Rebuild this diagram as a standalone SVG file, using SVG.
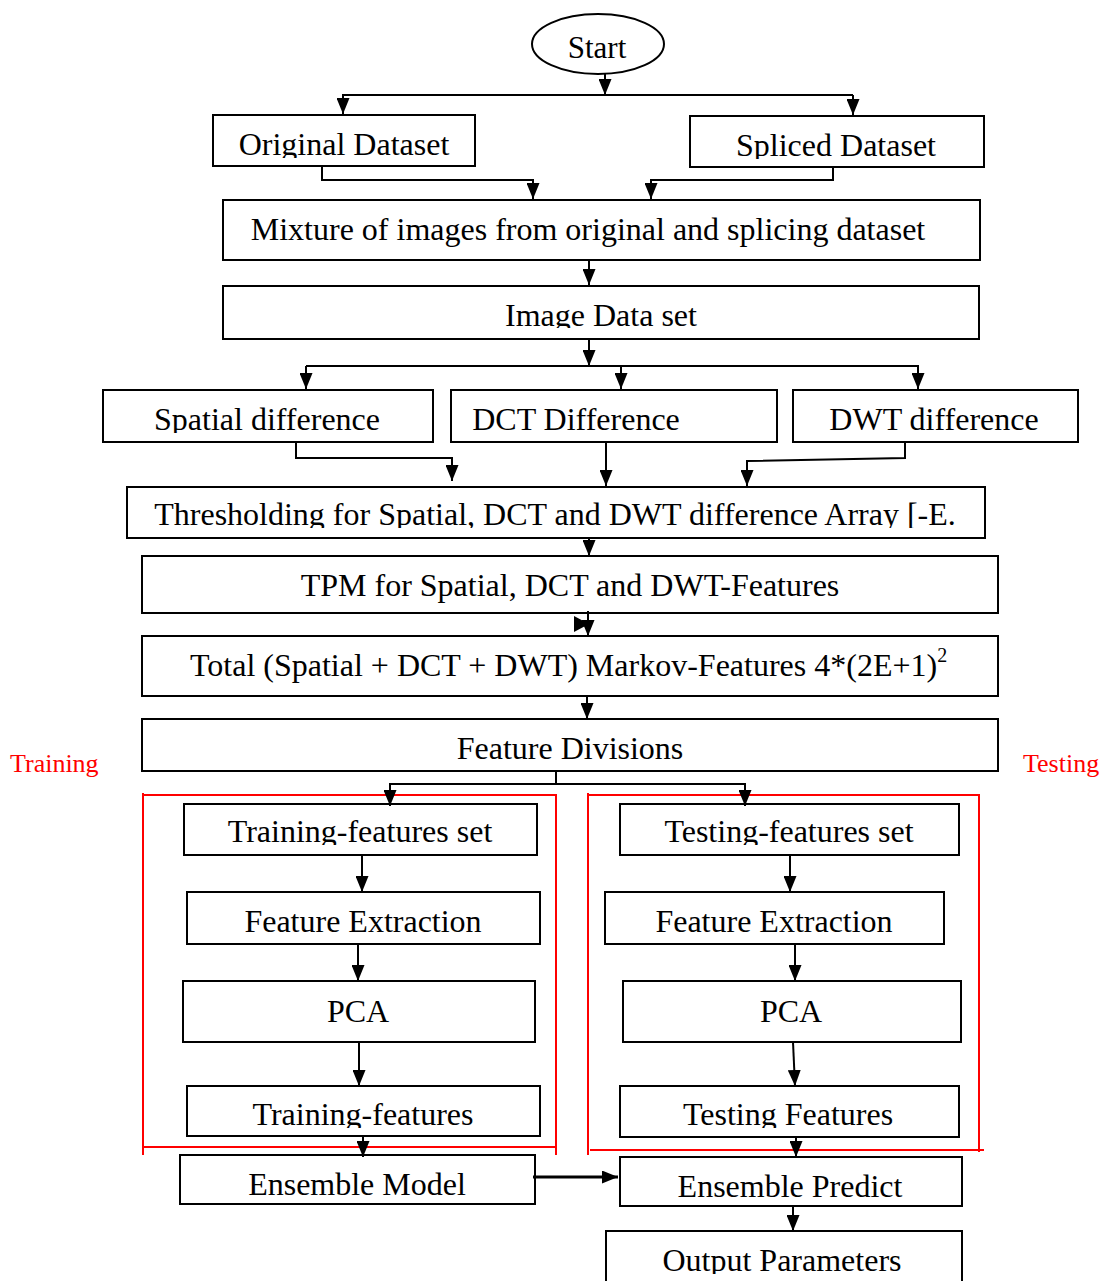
<svg xmlns="http://www.w3.org/2000/svg" width="1104" height="1281" viewBox="0 0 1104 1281">
<style>
.box{fill:#fff;stroke:#000;stroke-width:2}
.t{font-family:"Liberation Serif","Times New Roman",serif;font-size:32px;text-anchor:middle;fill:#000}
.lbl{font-family:"Liberation Serif","Times New Roman",serif;font-size:26px;fill:#f00}
.c{fill:none;stroke:#000;stroke-width:2}
.ca{fill:none;stroke:#000;stroke-width:2;marker-end:url(#ah)}
.red{fill:none;stroke:#f00;stroke-width:2}
</style>
<defs>
<marker id="ah" markerUnits="userSpaceOnUse" markerWidth="16" markerHeight="13" refX="16" refY="6.5" orient="auto" viewBox="0 0 16 13">
<path d="M0,0 L16,6.5 L0,13 z" fill="#000"/>
</marker>
<clipPath id="k1" clipPathUnits="userSpaceOnUse"><rect x="213" y="115" width="262" height="43"/></clipPath>
<clipPath id="k2" clipPathUnits="userSpaceOnUse"><rect x="690" y="116" width="295" height="43"/></clipPath>
<clipPath id="k3" clipPathUnits="userSpaceOnUse"><rect x="223" y="286" width="756" height="42"/></clipPath>
<clipPath id="k4" clipPathUnits="userSpaceOnUse"><rect x="103" y="390" width="330" height="43"/></clipPath>
<clipPath id="k5" clipPathUnits="userSpaceOnUse"><rect x="127" y="487" width="858" height="41"/></clipPath>
<clipPath id="k6" clipPathUnits="userSpaceOnUse"><rect x="184" y="804" width="353" height="41"/></clipPath>
<clipPath id="k7" clipPathUnits="userSpaceOnUse"><rect x="620" y="804" width="339" height="41"/></clipPath>
<clipPath id="k8" clipPathUnits="userSpaceOnUse"><rect x="187" y="1086" width="353" height="42"/></clipPath>
<clipPath id="k9" clipPathUnits="userSpaceOnUse"><rect x="620" y="1086" width="339" height="42"/></clipPath>
<clipPath id="k10" clipPathUnits="userSpaceOnUse"><rect x="606" y="1231" width="356" height="43"/></clipPath>
</defs>
<rect width="1104" height="1281" fill="#fff"/>

<g id="start"><ellipse cx="598" cy="44" rx="66" ry="30" class="box"/><text x="597" y="58" class="t" style="font-size:31px">Start</text></g>
<g id="original"><rect x="213" y="115" width="262" height="51" class="box"/><text x="344" y="155" class="t" clip-path="url(#k1)">Original Dataset</text></g>
<g id="spliced"><rect x="690" y="116" width="294" height="51" class="box"/><text x="836" y="156" class="t" clip-path="url(#k2)">Spliced Dataset</text></g>
<g id="mixture"><rect x="223" y="200" width="757" height="60" class="box"/><text x="588" y="240" class="t">Mixture of images from original and splicing dataset</text></g>
<g id="imagedata"><rect x="223" y="286" width="756" height="53" class="box"/><text x="601" y="326" class="t" clip-path="url(#k3)">Image Data set</text></g>
<g id="spatial"><rect x="103" y="390" width="330" height="52" class="box"/><text x="267" y="430" class="t" clip-path="url(#k4)">Spatial difference</text></g>
<g id="dct"><rect x="451" y="390" width="326" height="52" class="box"/><text x="576" y="430" class="t">DCT Difference</text></g>
<g id="dwt"><rect x="793" y="390" width="285" height="52" class="box"/><text x="934" y="430" class="t">DWT difference</text></g>
<g id="threshold"><rect x="127" y="487" width="858" height="51" class="box"/><text x="555" y="525" class="t" clip-path="url(#k5)">Thresholding for Spatial, DCT and DWT difference Array [-E.</text></g>
<g id="tpm"><rect x="142" y="556" width="856" height="57" class="box"/><text x="570" y="596" class="t">TPM for Spatial, DCT and DWT-Features</text></g>
<g id="total"><rect x="142" y="636" width="856" height="60" class="box"/><text x="190" y="676" class="t" style="text-anchor:start">Total (Spatial + DCT + DWT) Markov-Features 4*(2E+1)<tspan dy="-14" style="font-size:20px">2</tspan></text></g>
<g id="featdiv"><rect x="142" y="719" width="856" height="52" class="box"/><text x="570" y="759" class="t">Feature Divisions</text></g>

<g id="frames">
<path class="red" d="M143,793 V1155 M142,795 H556 M556,794 V1155 M142,1147 H556"/>
<path class="red" d="M588,793 V1155 M587,795 H979 M979,794 V1152 M590,1150 H984"/>
<text x="10" y="772" class="lbl">Training</text>
<text x="1023" y="772" class="lbl">Testing</text>
</g>

<g id="trset"><rect x="184" y="804" width="353" height="51" class="box"/><text x="360" y="842" class="t" clip-path="url(#k6)">Training-features set</text></g>
<g id="fel"><rect x="187" y="892" width="353" height="52" class="box"/><text x="363" y="932" class="t">Feature Extraction</text></g>
<g id="pcal"><rect x="183" y="981" width="352" height="61" class="box"/><text x="358" y="1022" class="t">PCA</text></g>
<g id="trfeat"><rect x="187" y="1086" width="353" height="50" class="box"/><text x="363" y="1125" class="t" clip-path="url(#k8)">Training-features</text></g>
<g id="ensm"><rect x="180" y="1155" width="355" height="49" class="box"/><text x="357" y="1195" class="t">Ensemble Model</text></g>
<g id="teset"><rect x="620" y="804" width="339" height="51" class="box"/><text x="789" y="842" class="t" clip-path="url(#k7)">Testing-features set</text></g>
<g id="fer"><rect x="605" y="892" width="339" height="52" class="box"/><text x="774" y="932" class="t">Feature Extraction</text></g>
<g id="pcar"><rect x="623" y="981" width="338" height="61" class="box"/><text x="791" y="1022" class="t">PCA</text></g>
<g id="tefeat"><rect x="620" y="1086" width="339" height="51" class="box"/><text x="788" y="1125" class="t" clip-path="url(#k9)">Testing Features</text></g>
<g id="ensp"><rect x="620" y="1157" width="342" height="49" class="box"/><text x="790" y="1197" class="t">Ensemble Predict</text></g>
<g id="output"><rect x="606" y="1231" width="356" height="60" class="box"/><text x="782" y="1271" class="t" clip-path="url(#k10)">Output Parameters</text></g>

<g id="connectors">
<path class="ca" d="M605,74 V95"/>
<path class="c" d="M342,95 H853"/>
<path class="ca" d="M343,95 V114"/>
<path class="ca" d="M853,95 V115"/>
<path class="ca" d="M322,166 V180 H533 V199"/>
<path class="ca" d="M833,167 V180 H651 V199"/>
<path class="ca" d="M589,260 V285"/>
<path class="ca" d="M589,339 V366"/>
<path class="c" d="M306,366 H919"/>
<path class="ca" d="M306,366 V389"/>
<path class="ca" d="M621,366 V389"/>
<path class="ca" d="M918,366 V389"/>
<path class="ca" d="M296,442 V458 H452 V481"/>
<path class="ca" d="M606,442 V486"/>
<path class="ca" d="M905,442 V458 L747,461 V486"/>
<path class="ca" d="M589,538 V556"/>
<path class="ca" d="M588,611 V636"/>
<polygon points="574,616 574,632 589,624" fill="#000"/>
<path class="ca" d="M587,696 V719"/>
<path class="c" d="M556,771 V784 M389,784 H746"/>
<path class="ca" d="M390,784 V806"/>
<path class="ca" d="M745,784 V806"/>
<path class="ca" d="M362,855 V892"/>
<path class="ca" d="M358,944 V981"/>
<path class="ca" d="M359,1042 V1086"/>
<path class="ca" d="M363,1136 V1157"/>
<path class="ca" d="M533,1177 H618" style="stroke-width:3"/>
<path class="ca" d="M790,855 V892"/>
<path class="ca" d="M795,944 V981"/>
<path class="ca" d="M793,1042 L795,1086"/>
<path class="ca" d="M796,1137 V1157"/>
<path class="ca" d="M793,1206 V1231"/>
</g>
</svg>
